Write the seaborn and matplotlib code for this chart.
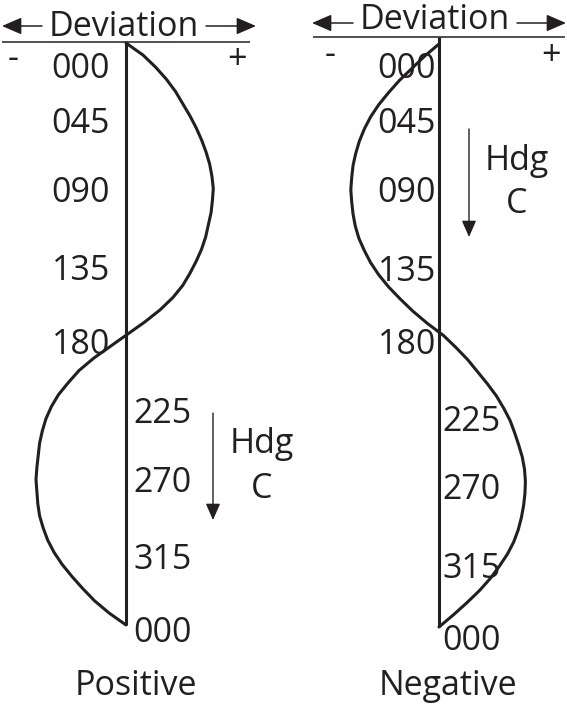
import numpy as np
import pandas as pd
import matplotlib.pyplot as plt
import seaborn as sns
from matplotlib.transforms import offset_copy

# ── Data ────────────────────────────────────────────────────
HEADINGS = [0, 7.5, 15, 22.5, 30, 37.5, 45, 52.5, 60, 67.5, 75, 82.5, 90,
            97.5, 105, 112.5, 120, 127.5, 135, 142.5, 150, 157.5, 165, 172.5, 180,
            187.5, 195, 202.5, 210, 217.5, 225, 232.5, 240, 247.5, 255, 262.5, 270,
            277.5, 285, 292.5, 300, 307.5, 315, 322.5, 330, 337.5, 345, 352.5, 360]
# deviation, relative to the largest swing (+ = right of the line)
POS_DEV = [0.00, 0.19, 0.33, 0.45, 0.55, 0.63, 0.71, 0.78, 0.84, 0.89, 0.93, 0.955, 0.97,
           0.96, 0.945, 0.915, 0.885, 0.84, 0.78, 0.71, 0.63, 0.52, 0.38, 0.21, 0.02,
           -0.17, -0.36, -0.52, -0.64, -0.75, -0.83, -0.89, -0.93, -0.96, -0.975, -0.99, -1.00,
           -0.99, -0.98, -0.96, -0.92, -0.87, -0.80, -0.71, -0.60, -0.48, -0.35, -0.19, 0.00]
NEG_DEV = [0.00, -0.16, -0.30, -0.44, -0.56, -0.67, -0.76, -0.83, -0.885, -0.925, -0.955, -0.97, -0.98,
           -0.97, -0.955, -0.93, -0.89, -0.83, -0.76, -0.67, -0.56, -0.43, -0.29, -0.13, 0.05,
           0.19, 0.32, 0.43, 0.54, 0.64, 0.72, 0.79, 0.84, 0.885, 0.925, 0.95, 0.96,
           0.955, 0.94, 0.915, 0.88, 0.83, 0.76, 0.67, 0.57, 0.45, 0.31, 0.16, 0.00]
TICK_HDG = [0, 45, 90, 135, 180, 225, 270, 315, 360]
TICK_LABELS = ["000", "045", "090", "135", "180", "225", "270", "315", "000"]
TITLES = ["Positive", "Negative"]

W, H = 567, 705
INK = "#231f20"
FS = 24.5
UNIT = 90  # px per unit of deviation

sns.set_style("white")
plt.rcParams["font.family"] = ["Open Sans", "DejaVu Sans"]

# ── Panel layout (pixels, y measured from the top) ──────────
PANELS = [
    dict(dev=POS_DEV, line_x=126, y0=43, y360=625, rule_y=42, rule=(2, 250),
         nudge=[23, 5, 1.5, 6.5, 7, 4, -0.5, 4.5, 4], dx_up=-16, dx_low=7,
         dev_x=124, dev_base=36, arr_y=26, arr_l=(42, 2), arr_r=(206, 256),
         minus=(13, 68), plus=(237, 69),
         hdg_x=213, hdg_y=(413, 520), hdg_tx=262, hdg_base=(453, 498),
         title_x=136),
    dict(dev=NEG_DEV, line_x=439, y0=44, y360=627, rule_y=37, rule=(313, 565),
         nudge=[22, 4, 0, 5.5, 5.5, 10.5, 5.5, 11, 11], dx_up=-3, dx_low=3,
         dev_x=435, dev_base=29, arr_y=23, arr_l=(353, 312), arr_r=(517, 566),
         minus=(330, 64), plus=(551, 65),
         hdg_x=469, hdg_y=(129, 237), hdg_tx=517, hdg_base=(170, 213),
         title_x=448),
]

fig = plt.figure(figsize=(W / 100, H / 100), dpi=100)


def px_text(ax, x, y, s, **kw):
    ax.annotate(s, xy=(x, H - y), xycoords="figure pixels", color=INK,
                fontsize=FS, va="baseline", **kw)


def px_arrow(ax, tail, tip, lw=1.1, head="head_length=0.5,head_width=0.22"):
    ax.annotate("", xy=(tip[0], H - tip[1]), xytext=(tail[0], H - tail[1]),
                xycoords="figure pixels", textcoords="figure pixels",
                arrowprops=dict(arrowstyle="-|>," + head,
                                lw=lw, color=INK, mutation_scale=20,
                                shrinkA=0, shrinkB=0))


for i, p in enumerate(PANELS):
    ax = fig.add_axes([0, 0, 1, 1])
    ax.patch.set_alpha(0)

    k = 360 / (p["y360"] - p["y0"])
    hdg_of = lambda y: (y - p["y0"]) * k
    dev_of = lambda x: (x - p["line_x"]) / UNIT

    df = pd.DataFrame({"heading": HEADINGS, "deviation": p["dev"]})
    sns.lineplot(data=df, x="deviation", y="heading", sort=False, estimator=None,
                 color=INK, lw=2.2, ax=ax)

    ax.vlines(0, hdg_of(p["rule_y"]), 360, color=INK, lw=2.2)
    ax.hlines(hdg_of(p["rule_y"]), dev_of(p["rule"][0]), dev_of(p["rule"][1]),
              color=INK, lw=1.1)

    ax.set_xlim(dev_of(0), dev_of(W))
    ax.set_ylim(hdg_of(H), hdg_of(0))
    ax.axis("off")

    # heading labels: upper half left of the line, lower half right of it
    for h, lab, nd in zip(TICK_HDG, TICK_LABELS, p["nudge"]):
        upper = h <= 180
        tr = offset_copy(ax.transData, fig=fig, units="dots",
                         x=p["dx_up"] if upper else p["dx_low"], y=-(nd + 12.5))
        ax.text(0, h, lab, transform=tr, ha="right" if upper else "left",
                va="baseline", fontsize=FS, color=INK)

    # header: ← Deviation →  with - / + signs
    px_text(ax, p["dev_x"], p["dev_base"], "Deviation", ha="center")
    px_arrow(ax, (p["arr_l"][0], p["arr_y"]), (p["arr_l"][1], p["arr_y"]),
             head="head_length=0.6,head_width=0.26")
    px_arrow(ax, (p["arr_r"][0], p["arr_y"]), (p["arr_r"][1], p["arr_y"]),
             head="head_length=0.6,head_width=0.26")
    px_text(ax, p["minus"][0], p["minus"][1], "-", ha="center")
    px_text(ax, p["plus"][0], p["plus"][1], "+", ha="center")

    # heading change arrow
    px_arrow(ax, (p["hdg_x"], p["hdg_y"][0]), (p["hdg_x"], p["hdg_y"][1]), lw=1.0)
    px_text(ax, p["hdg_tx"], p["hdg_base"][0], "Hdg", ha="center")
    px_text(ax, p["hdg_tx"], p["hdg_base"][1], "C", ha="center")

    px_text(ax, p["title_x"], 695, TITLES[i], ha="center")

fig.savefig("out.png", dpi=100)
